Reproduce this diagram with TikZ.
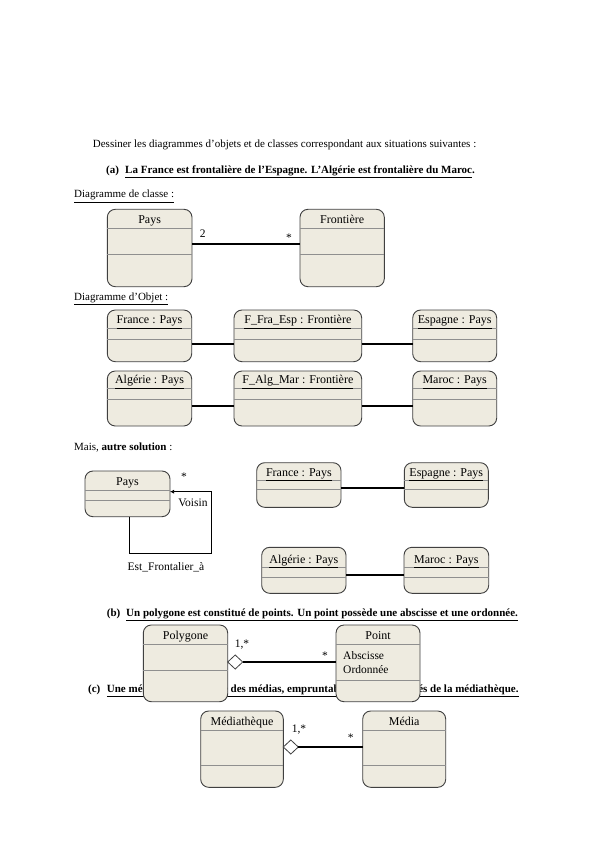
\documentclass[tikz,border=0pt]{standalone}
\usepackage{fontspec}
\setmainfont{Liberation Serif}
\usetikzlibrary{arrows.meta,shapes.geometric}
\definecolor{boxfill}{HTML}{EEEBE0}
\definecolor{boxline}{HTML}{404040}
\definecolor{sepgray}{HTML}{8F8F8F}
\tikzset{
  umlbox/.style={draw=boxline, fill=boxfill, rounded corners=8pt, line width=0.9pt, inner sep=0pt, outer sep=0pt},
  sepline/.style={draw=sepgray, line width=0.9pt},
  boxtitle/.style={font=\fontsize{12}{14}\selectfont, inner sep=0pt, anchor=base},
  lbl/.style={font=\fontsize{11.5}{13}\selectfont, inner sep=0pt},
  hdr/.style={font=\fontsize{11}{13}\selectfont, inner sep=0pt, anchor=base west},
  hdrb/.style={font=\fontsize{11}{13}\selectfont\bfseries, inner sep=0pt, anchor=base west},
  link/.style={draw=black, line width=1.6pt},
  agg/.style={diamond, draw=boxline, fill=white, line width=0.8pt, minimum width=15pt, minimum height=14pt, inner sep=0pt, outer sep=0pt},
}
% name, x1, y1, x2, y2, sep1, sep2, title
\newcommand\umlbox[8]{%
  \pgfmathsetmacro\bw{#4-#2}\pgfmathsetmacro\bh{#5-#3}%
  \pgfmathsetmacro\tx{(#2+#4)/2}\pgfmathsetmacro\ty{#6-4.5}%
  \node[umlbox, minimum width=\bw pt, minimum height=\bh pt, anchor=north west] (#1) at (#2,#3) {};
  \draw[sepline] (#1.west |- 0,#6) -- (#1.east |- 0,#6);
  \draw[sepline] (#1.west |- 0,#7) -- (#1.east |- 0,#7);
  \node[boxtitle] (#1-title) at (\tx,\ty) {#8};
}
\begin{document}
\begin{tikzpicture}[x=1pt,y=-1pt]
\useasboundingbox[fill=white] (0,0) rectangle (595,842);

% headings
\node[hdr] (intro) at (92.7,148) {Dessiner les diagrammes d’objets et de classes correspondant aux situations suivantes :};
\node[hdrb] (ha) at (106,173.5) {(a)};
\node[hdrb] (hat) at (125,173.5) {\underline{La France est frontalière de l’Espagne. L’Algérie est frontalière du Maroc}.};
\node[hdr] (dc) at (74,198) {\underline{Diagramme de classe :}};
\node[hdr] (do) at (74,300) {\underline{Diagramme d’Objet :}};
\node[hdr] (mais) at (74,450) {Mais, \textbf{autre solution} :};
\node[hdrb] (hb) at (106.7,616) {(b)};
\node[hdrb] (hbt) at (126,616) {\underline{Un polygone est constitué de points. Un point possède une abscisse et une ordonnée.}};
\node[hdrb] (hc) at (88,692) {(c)};
\node[hdrb] (hct) at (106.7,692) {\underline{Une médiathèque possède des médias, empruntables par les abonnés de la médiathèque.}};

% (a) class diagram
\umlbox{pays}{107.3}{209.3}{192}{286.7}{228.3}{254}{Pays}
\umlbox{front}{300}{209.3}{384.3}{286.7}{228.3}{254}{Frontière}
\draw[link] (pays.east |- 0,244) -- (front.west |- 0,244);
\node[lbl] (m1) at (202.7,234) {2};
\node[lbl] (m2) at (289,238) {*};

% object diagram row 1
\umlbox{fr}{107.3}{310}{191.7}{361.7}{328.3}{339}{\underline{France : Pays}}
\umlbox{ffe}{234}{310}{361.7}{361.7}{328.3}{339}{\underline{F\_Fra\_Esp : Frontière}}
\umlbox{es}{412.7}{310}{496.7}{361.7}{328.3}{339}{\underline{Espagne : Pays}}
\draw[link] (fr.east |- 0,344) -- (ffe.west |- 0,344);
\draw[link] (ffe.east |- 0,344) -- (es.west |- 0,344);

% object diagram row 2
\umlbox{al}{107.3}{371}{191.7}{426}{388.3}{399}{\underline{Algérie : Pays}}
\umlbox{fam}{234}{371}{361.7}{426}{388.3}{399}{\underline{F\_Alg\_Mar : Frontière}}
\umlbox{ma}{412.7}{371}{496.7}{426}{388.3}{399}{\underline{Maroc : Pays}}
\draw[link] (al.east |- 0,406) -- (fam.west |- 0,406);
\draw[link] (fam.east |- 0,406) -- (ma.west |- 0,406);

% autre solution
\umlbox{pays2}{85}{471}{170}{516.7}{490}{500.7}{Pays}
\coordinate (l1) at (129.3,553.3);
\coordinate (l2) at (211.7,553.3);
\draw[line width=0.7pt, -{Latex[length=4pt,width=4pt]}] (129.3,0 |- pays2.south) -- (l1) -- (l2) -- (l2 |- 0,491.7) -- (pays2.east |- 0,491.7);
\node[lbl] (star3) at (184,477) {*};
\node[lbl] (vois) at (193,503) {Voisin};
\node[lbl] (estf) at (166,567) {Est\_Frontalier\_à};

\umlbox{fr2}{256.7}{462.7}{341}{507.3}{480.7}{489.3}{\underline{France : Pays}}
\umlbox{es2}{404.3}{462.7}{488.3}{507.3}{480.7}{489.3}{\underline{Espagne : Pays}}
\draw[link] (fr2.east |- 0,488) -- (es2.west |- 0,488);
\umlbox{al2}{261.7}{547.3}{346}{593.3}{567.7}{577.3}{\underline{Algérie : Pays}}
\umlbox{ma2}{404}{547.3}{488.7}{593.3}{567.7}{577.3}{\underline{Maroc : Pays}}
\draw[link] (al2.east |- 0,575) -- (ma2.west |- 0,575);

% (b) polygon
\umlbox{poly}{143.3}{625}{227.7}{701.7}{644.3}{670}{Polygone}
\umlbox{point}{336}{625}{420}{701.7}{644.3}{680.7}{Point}
\node[hdr, font=\fontsize{11.5}{13}\selectfont] (absc) at (343,659.5) {Abscisse};
\node[hdr, font=\fontsize{11.5}{13}\selectfont] (ordo) at (343,673.5) {Ordonnée};
\node[agg, anchor=west] (d1) at (poly.east |- 0,662) {};
\draw[link] (d1.east) -- (point.west |- d1.east);
\node[lbl] (m3) at (242,645) {1,*};
\node[lbl] (m4) at (325,656) {*};

% (c) mediatheque
\umlbox{med}{200.7}{711}{283.3}{787.3}{730}{765}{Médiathèque}
\umlbox{media}{362.7}{711}{445.7}{787.3}{730}{765}{Média}
\node[agg, anchor=west] (d2) at (med.east |- 0,747) {};
\draw[link] (d2.east) -- (media.west |- d2.east);
\node[lbl] (m5) at (299,730) {1,*};
\node[lbl] (m6) at (350.7,738) {*};
\end{tikzpicture}
\end{document}
